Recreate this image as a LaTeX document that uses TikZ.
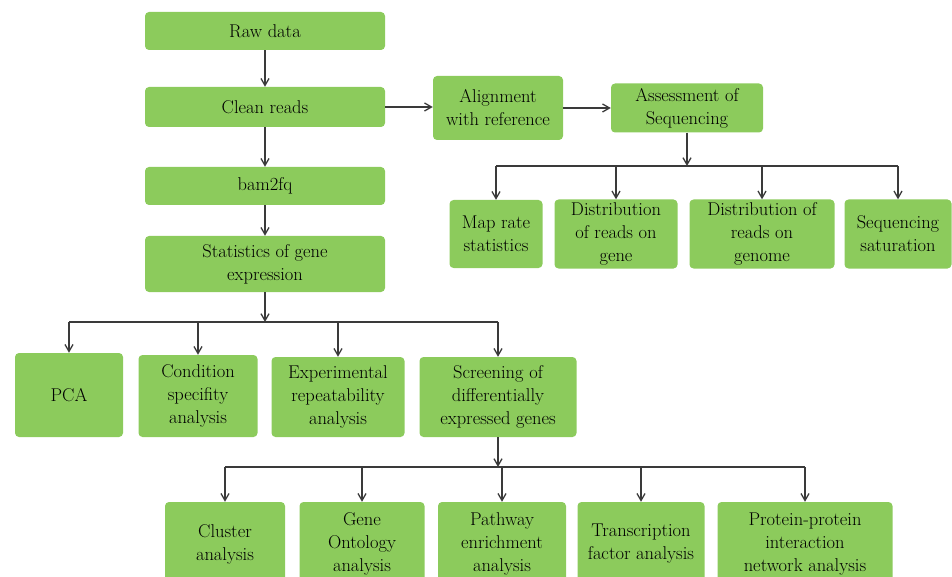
\documentclass[tikz,border=0pt]{standalone}
\usetikzlibrary{arrows.meta}
\definecolor{boxgreen}{HTML}{8CCB5C}
\definecolor{linegray}{HTML}{3A3A3A}
\begin{document}
\begin{tikzpicture}[x=1pt,y=-1pt,
  box/.style={fill=boxgreen,rounded corners=4pt,align=center,inner sep=0pt,
    text=black,font=\fontsize{18.5}{23}\selectfont},
  link/.style={draw=linegray,line width=1.3pt},
  arr/.style={link,-{Straight Barb[length=7pt,width=8pt]}}]
\useasboundingbox (0,0) rectangle (952,577);
\node[box,minimum width=240,minimum height=38] (raw) at (265,31) {Raw data};
\node[box,minimum width=240,minimum height=40] (clean) at (265,107) {Clean reads};
\node[box,minimum width=240,minimum height=38] (bam) at (265,186) {bam2fq};
\node[box,minimum width=240,minimum height=56] (stats) at (265,264) {Statistics of gene\\expression};
\node[box,minimum width=130,minimum height=64] (align) at (498,108) {Alignment\\with reference};
\node[box,minimum width=152,minimum height=49] (assess) at (687,108) {Assessment of\\Sequencing};
\node[box,minimum width=93,minimum height=68] (map) at (496,234) {Map rate\\statistics};
\node[box,minimum width=123,minimum height=69] (distgene) at (616,234) {Distribution\\of reads on\\gene};
\node[box,minimum width=145,minimum height=69] (distgenome) at (762,234) {Distribution of\\reads on\\genome};
\node[box,minimum width=107,minimum height=69] (sat) at (898,234) {Sequencing\\saturation};
\node[box,minimum width=108,minimum height=84] (pca) at (69,395) {PCA};
\node[box,minimum width=119,minimum height=82] (cond) at (198,396) {Condition\\specifity\\analysis};
\node[box,minimum width=133,minimum height=80] (exper) at (338,397) {Experimental\\repeatability\\analysis};
\node[box,minimum width=157,minimum height=80] (screen) at (498,397) {Screening of\\differentially\\expressed genes};
\node[box,minimum width=120,minimum height=84] (cluster) at (225,544) {Cluster\\analysis};
\node[box,minimum width=125,minimum height=84] (gene) at (362,544) {Gene\\Ontology\\analysis};
\node[box,minimum width=128,minimum height=84] (path) at (502,544) {Pathway\\enrichment\\analysis};
\node[box,minimum width=127,minimum height=84] (trans) at (641,544) {Transcription\\factor analysis};
\node[box,minimum width=175,minimum height=84] (prot) at (805,544) {Protein-protein\\interaction\\network analysis};
\coordinate (hubA) at (687,166);
\coordinate (hubB) at (265,322);
\coordinate (hubC) at (498,467);
\draw[arr] (raw) -- (clean);
\draw[arr] (clean) -- (bam);
\draw[arr] (bam) -- (stats);
\draw[arr] (clean) -- (clean -| align.west);
\draw[arr] (align) -- (assess);
\draw[arr] (assess) -- (hubA);
\draw[link] (hubA -| map) -- (hubA -| sat);
\foreach \n in {map,distgene,distgenome,sat}
  \draw[arr] (hubA -| \n) -- (\n);
\draw[arr] (stats) -- (hubB);
\draw[link] (hubB -| pca) -- (hubB -| screen);
\foreach \n in {pca,cond,exper,screen}
  \draw[arr] (hubB -| \n) -- (\n);
\draw[arr] (screen) -- (hubC);
\draw[link] (hubC -| cluster) -- (hubC -| prot);
\foreach \n in {cluster,gene,path,trans,prot}
  \draw[arr] (hubC -| \n) -- (\n);
\end{tikzpicture}
\end{document}
